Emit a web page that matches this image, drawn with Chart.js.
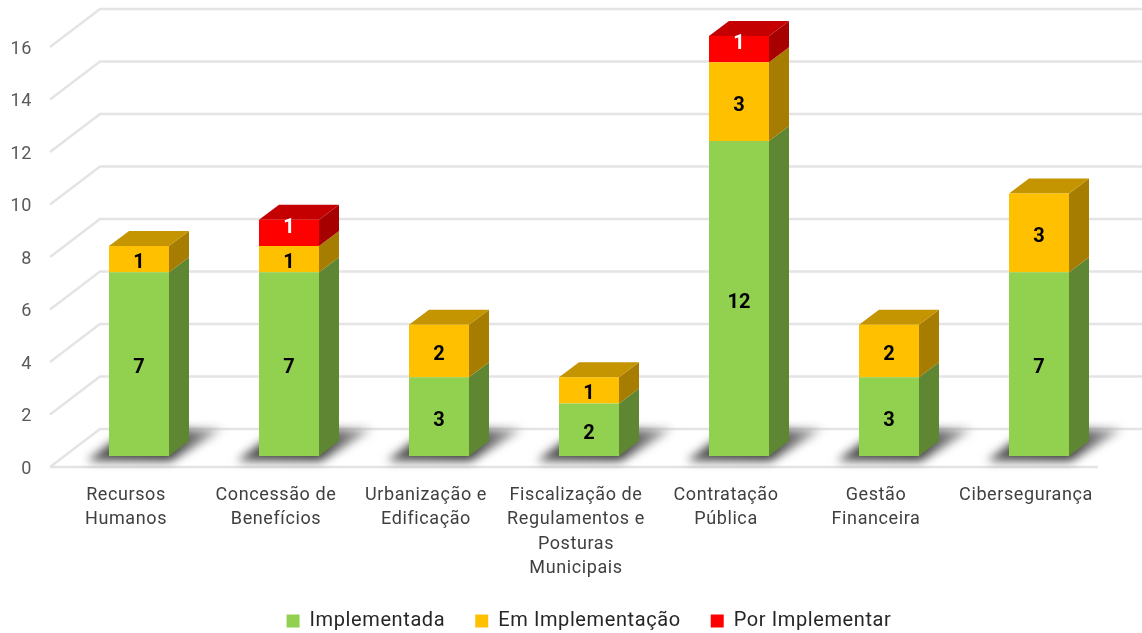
<!DOCTYPE html>
<html>
<head>
<meta charset="utf-8">
<title>Medidas por área</title>
<script src="https://cdn.jsdelivr.net/npm/chart.js@4"></script>
<style>
    html, body { margin: 0; padding: 0; background: #fff; }
    #wrap { width: 1142px; height: 633px; }
</style>
</head>
<body>
<div id="wrap"><canvas id="chart"></canvas></div>
<script>
const categories = [
    ['Recursos', 'Humanos'],
    ['Concessão de', 'Benefícios'],
    ['Urbanização e', 'Edificação'],
    ['Fiscalização de', 'Regulamentos e', 'Posturas', 'Municipais'],
    ['Contratação', 'Pública'],
    ['Gestão', 'Financeira'],
    ['Cibersegurança']
];
const implementada = [7, 7, 3, 2, 12, 3, 7];
const emImplementacao = [1, 1, 2, 1, 3, 2, 3];
const porImplementar = [0, 1, 0, 0, 1, 0, 0];

// depth of the fake 3D look, in pixels
const barDepth = { x: 20, y: 15 };
const floorFront = { dx: -14, dy: 11 };
const floorBack = { dx: 36, dy: -27 };
const floorRight = 1098;
const wallRight = 1142;
const textSpacing = '0.6px';

const faces = [
    { front: '#92D050', side: '#5F8632', top: '#71A23E', label: '#000000', labelShift: 4 },
    { front: '#FFC000', side: '#A67D00', top: '#C49500', label: '#000000', labelShift: 4 },
    { front: '#FF0000', side: '#A60000', top: '#C40000', label: '#FFFFFF', labelShift: -5 }
];

function polygon(ctx, points, color) {
    ctx.fillStyle = color;
    ctx.beginPath();
    points.forEach((p, i) => i ? ctx.lineTo(p[0], p[1]) : ctx.moveTo(p[0], p[1]));
    ctx.closePath();
    ctx.fill();
}

// the tick padding must not push the plot area away from the canvas edges
function noScalePadding(scale) {
    scale.paddingTop = 0;
    scale.paddingBottom = 0;
    scale.paddingLeft = 0;
    scale.paddingRight = 0;
}

const wallsPlugin = {
    id: 'walls',
    beforeLayout(chart) {
        chart.ctx.letterSpacing = textSpacing;
    },
    beforeDraw(chart) {
        chart.ctx.letterSpacing = textSpacing;
    },
    beforeDatasetsDraw(chart) {
        const { ctx, chartArea, scales } = chart;
        const left = chartArea.left;
        ctx.save();
        ctx.strokeStyle = '#E4E4E4';
        ctx.lineWidth = 2.5;
        scales.y.ticks.forEach(tick => {
            const py = scales.y.getPixelForValue(tick.value);
            ctx.beginPath();
            ctx.moveTo(left + floorFront.dx, py + floorFront.dy);
            ctx.lineTo(left + floorBack.dx, py + floorBack.dy);
            ctx.lineTo(wallRight, py + floorBack.dy);
            ctx.stroke();
            if (tick.value === 0) {
                ctx.beginPath();
                ctx.moveTo(left + floorFront.dx, py + floorFront.dy);
                ctx.lineTo(floorRight, py + floorFront.dy);
                ctx.stroke();
            }
        });

        // soft shadows on the floor
        ctx.filter = 'blur(5px)';
        chart.getDatasetMeta(0).data.forEach(bar => {
            const b = bar.base;
            const grad = ctx.createLinearGradient(bar.x - 54, 0, bar.x + 84, 0);
            grad.addColorStop(0, '#555555');
            grad.addColorStop(0.6, '#3c3c3c');
            grad.addColorStop(1, '#c0c0c0');
            polygon(ctx, [
                [bar.x - 52, b + 5],
                [bar.x + 32, b + 5],
                [bar.x + 84, b - 27],
                [bar.x - 10, b - 27]
            ], grad);
        });
        ctx.filter = 'none';

        // side and top faces of the stacks
        const count = categories.length;
        for (let i = 0; i < count; i++) {
            let topDs = 0;
            faces.forEach((face, ds) => {
                const bar = chart.getDatasetMeta(ds).data[i];
                if (chart.data.datasets[ds].data[i] > 0) {
                    const right = bar.x + bar.width / 2;
                    polygon(ctx, [
                        [right, bar.y],
                        [right + barDepth.x, bar.y - barDepth.y],
                        [right + barDepth.x, bar.base - barDepth.y],
                        [right, bar.base]
                    ], face.side);
                    topDs = ds;
                }
            });
            const bar = chart.getDatasetMeta(topDs).data[i];
            const l = bar.x - bar.width / 2;
            const r = bar.x + bar.width / 2;
            polygon(ctx, [
                [l, bar.y],
                [l + barDepth.x, bar.y - barDepth.y],
                [r + barDepth.x, bar.y - barDepth.y],
                [r, bar.y]
            ], faces[topDs].top);
        }
        ctx.restore();
    },
    afterDatasetsDraw(chart) {
        const { ctx } = chart;
        ctx.save();
        ctx.letterSpacing = '0px';
        ctx.font = '700 20px Roboto';
        ctx.textAlign = 'center';
        ctx.textBaseline = 'middle';
        faces.forEach((face, ds) => {
            ctx.fillStyle = face.label;
            chart.getDatasetMeta(ds).data.forEach((bar, i) => {
                const value = chart.data.datasets[ds].data[i];
                if (value > 0) {
                    ctx.fillText(value, bar.x, (bar.y + bar.base) / 2 + face.labelShift);
                }
            });
        });
        ctx.restore();
    }
};

new Chart(document.getElementById('chart'), {
    type: 'bar',
    data: {
        labels: categories,
        datasets: [
            { label: 'Implementada', data: implementada, backgroundColor: faces[0].front },
            { label: 'Em Implementação', data: emImplementacao, backgroundColor: faces[1].front },
            { label: 'Por Implementar', data: porImplementar, backgroundColor: faces[2].front }
        ]
    },
    plugins: [wallsPlugin],
    options: {
        responsive: true,
        maintainAspectRatio: false,
        animation: false,
        events: [],
        layout: { padding: { top: 9.75, right: 28, left: 0, bottom: -8 } },
        datasets: { bar: { barPercentage: 1, categoryPercentage: 0.4, clip: false } },
        scales: {
            x: {
                stacked: true,
                grid: { display: false, drawTicks: false },
                border: { display: false },
                afterFit: scale => { scale.height = 125; noScalePadding(scale); },
                ticks: {
                    color: '#404040',
                    font: { family: 'Roboto', size: 18, lineHeight: 1.36 },
                    padding: 27,
                    labelOffset: -13,
                    maxRotation: 0,
                    autoSkip: false
                }
            },
            y: {
                stacked: true,
                min: 0,
                max: 17,
                grid: { display: false, drawTicks: false },
                border: { display: false },
                afterFit: scale => { scale.width = 64; noScalePadding(scale); },
                ticks: {
                    stepSize: 2,
                    includeBounds: false,
                    color: '#595959',
                    font: { family: 'Roboto', size: 18 },
                    padding: 32,
                    labelOffset: 13
                }
            }
        },
        plugins: {
            tooltip: { enabled: false },
            legend: {
                position: 'bottom',
                fullSize: false,
                labels: {
                    color: '#262626',
                    font: { family: 'Roboto', size: 20 },
                    boxWidth: 13,
                    boxHeight: 13,
                    padding: 30
                }
            }
        }
    }
});
</script>
</body>
</html>
